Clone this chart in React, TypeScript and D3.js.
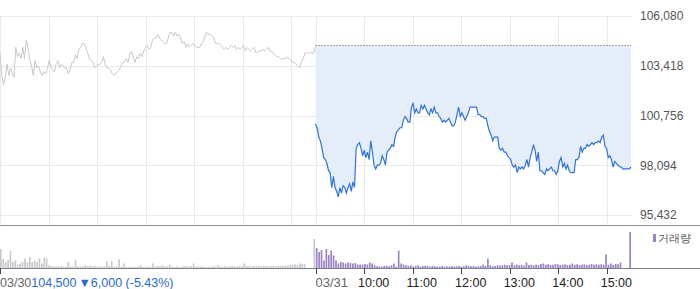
import React from 'react';
import * as d3 from 'd3';

const priceTicks = [95432, 98094, 100756, 103418, 106080];
const prevClose = 104500;
const dayLabels = ['03/30', '03/31'];
const hourLabels = ['10:00', '11:00', '12:00', '13:00', '14:00', '15:00'];
const summaryPrice = '104,500';
const summaryChange = '▼6,000 (-5.43%)';
const legendLabel = '거래량';

// 03/30 (previous session) prices, 09:00 -> 15:30
const day1Prices = [
  104100, 102900, 102400, 102800, 103500, 102900, 103300, 103000, 102800, 104400,
  103900, 104100, 103800, 104400, 103800, 104800, 104400, 103700,
  103400, 102900, 103700, 103300, 103400, 103100, 102900, 103100,
  103000, 103200, 103700, 103400, 103200, 103100, 103500, 103700, 103300, 103500,
  103400, 103300, 103300, 103000, 103200, 103600, 103600, 104000, 103800, 104300,
  104400, 104600, 104600, 104400, 104100, 103800, 103700, 103600, 103300, 103400,
  103500, 103500, 103600, 103900, 103500, 103300, 103300, 103200, 103000, 102900,
  103000, 103100, 103200, 103400, 103600, 103600, 103800, 103600, 104000, 104200,
  103900, 103600, 103900, 103800, 104100, 103900, 104200, 104400, 104500, 104300,
  104400,
  104800, 104900, 104900, 105100, 104900, 104800, 104700, 104600, 104600, 104900,
  105200, 105200, 105000, 105200, 105000, 105100, 104900, 104600, 104700, 104400,
  104600, 104400, 104500, 104600, 104500, 104400, 104400, 104400, 104600, 104700,
  105000, 105200, 105100, 105100, 105000, 104900, 104600, 104600, 104600, 104500,
  104400, 104300, 104400, 104300, 104400, 104500, 104400, 104500, 104300, 104400,
  104300, 104400, 104500, 104200, 104400, 104300, 104200, 104300, 104400, 104100,
  104200, 104200, 104200, 104300, 104200, 104300, 104400, 104200, 104200, 104100,
  104000, 103900, 103900, 103800, 103800, 103800, 103800, 103900, 103800, 103700,
  103600, 103600, 103500, 103400, 103300, 103600, 103800, 104100, 104100, 104100,
  104100, 104100, 104100, 104500,
];

// 03/31 (current session) prices, 09:00 -> 15:30
const day2Prices = [
  100300, 100100, 99600, 99400, 99000, 98500, 98400, 98200, 97800, 97700,
  96900, 97500, 96900, 96700, 96400, 96900, 96600, 97000, 96900, 96600,
  96900, 97100, 96700, 97200, 96900, 99000, 99200, 99300, 99000, 98600,
  98900, 98500, 98800, 98400, 99400, 98800, 98100, 97900, 98100, 98100,
  98200, 98600, 98400, 98100, 98800, 98900, 99000, 99200, 99100, 99600,
  99900, 100000, 100100, 100100, 100500, 100700, 100600, 100400, 100400, 101200,
  101400, 100900, 101100, 100900, 100900, 101300, 101100, 101300, 101100, 100900,
  100800, 101100, 100900, 101200, 100900, 100900, 100700, 100600, 100400, 100500,
  100400, 100500, 100600, 100400, 100200, 100200, 100400, 100800, 101200, 100700,
  100900, 100700, 100500, 100700, 100900, 101200, 101200, 101200, 101200, 101200,
  100800,
  100800, 100700, 100700, 100600, 100600, 100200, 99900, 99700, 99400, 99600,
  99600, 99600, 99000, 98900, 99000, 98800, 98800, 98600, 98500, 98400,
  98100, 98000, 98100, 97700, 98000, 97900, 98000, 97900, 98100, 98400,
  98000, 98500, 98800, 99200, 98900, 98300, 98800, 97800, 97800, 97700,
  97600, 97900, 97800, 97900, 98000, 97800, 97800, 97600, 97800, 98300,
  98500, 98000, 98200, 97900, 98100, 97800, 97700, 97700, 97700, 98400,
  98400, 98500, 99100, 98800, 99000, 99000, 99200, 99100, 99200, 99300,
  99200, 99300, 99300, 99400, 99300, 99600, 99700, 99100, 99000, 98500,
  98600, 98400, 98000, 98300, 98200, 98100, 98000, 98000, 97900, 97900,
  97900, 97900, 97900, 98000,
];

// volume (hundreds of shares) per 3-minute bar
const day1Volume = [
  190, 90, 60, 80, 170, 60, 75, 35, 45, 60,
  95, 60, 110, 60, 75, 60, 95, 45, 105, 95,
  28, 20, 17, 20, 14, 17, 14, 14, 60, 14,
  14, 78, 17, 14, 17, 27, 20, 23, 17, 20,
  14, 17, 14, 14, 68, 20, 68, 14, 17, 88,
  14, 45, 11, 11, 14, 11, 11, 14, 27, 11,
  14, 11, 14, 45, 14, 20, 17, 27, 17, 14,
  35, 14, 11, 14, 11, 14, 17, 20, 14, 20,
  45, 14, 17, 14, 17, 11, 14, 11, 17, 14,
  27, 17, 14, 20, 14, 17, 20, 14, 17, 20,
  17, 45, 17, 20, 14, 20, 17, 20, 17, 23,
  20, 17, 20, 23, 20, 23, 20, 23, 27, 23,
  30, 33, 37, 33, 45, 40, 37, 0, 0, 0,
  290,
];

const day2Volume = [
  200, 160, 180, 75, 190, 130, 175, 125, 75, 45,
  60, 55, 45, 55, 50, 45, 50, 35, 35, 35,
  40, 35, 55, 45, 28, 17, 17, 14, 20, 23,
  17, 27, 45, 14, 175, 45, 35, 28, 20, 27,
  14, 20, 27, 14, 20, 23, 20, 14, 20, 17,
  14, 14, 20, 14, 17, 14, 20, 14, 17, 20,
  14, 17, 27, 23, 17, 20, 14, 17, 20, 35,
  20, 95, 27, 17, 20, 27, 23, 27, 33, 27,
  30, 55, 27, 33, 27, 30, 23, 55, 30, 33,
  27, 33, 30, 40, 45, 33, 37, 30, 33, 40,
  37, 30, 33, 37, 30, 33, 45, 33, 37, 30,
  33, 37, 30, 33, 40, 33, 37, 33, 37, 33,
  137, 33, 45, 30, 40, 37, 55, 0, 0, 0,
  360,
];

const FONT = '"Liberation Sans", Arial, sans-serif';

export default function App() {
  const plotRight = 631;
  const x = d3.scaleLinear().domain([0, 780]).range([0, plotRight]);
  const y = d3.scaleLinear().domain([priceTicks[0], priceTicks[priceTicks.length - 1]]).range([215, 16]);
  const vy = d3.scaleLinear().domain([0, 430]).range([268, 225]);

  type P = { t: number; p: number };
  const d1: P[] = day1Prices.map((p, i) => ({ t: (i * 390) / (day1Prices.length - 1), p }));
  const d2: P[] = day2Prices.map((p, i) => ({ t: 390 + (i * 390) / (day2Prices.length - 1), p }));

  const line = d3.line<P>().x((d) => x(d.t)).y((d) => y(d.p));
  const area = d3.area<P>().x((d) => x(d.t)).y0(y(prevClose)).y1((d) => y(d.p));

  const allVol = [...day1Volume, ...day2Volume];
  const vb = d3.scaleBand<number>().domain(d3.range(allVol.length)).range([0, plotRight]).paddingInner(0.3);

  const crisp = (v: number) => Math.round(v) + 0.5;

  const vGrid: number[] = [];
  for (let d = 0; d < 2; d++) for (let h = 0; h <= 6; h++) vGrid.push(d * 390 + h * 60);

  const hourTicks = hourLabels.map((lab, i) => ({ lab, t: 390 + (i + 1) * 60 }));

  return (
    <div>
      <style>{`body{margin:0;}`}</style>
      <svg width={700} height={289} style={{ display: 'block', fontFamily: FONT }}>
        <rect x={0} y={0} width={700} height={289} fill="#fff" />
        {priceTicks.map((v) => (
          <line key={'h' + v} x1={0} x2={632} y1={crisp(y(v))} y2={crisp(y(v))} stroke="#e9e9e9" strokeWidth={1} />
        ))}
        {vGrid.map((t) => (
          <line key={'v' + t} x1={crisp(x(t))} x2={crisp(x(t))} y1={16} y2={225} stroke="#e9e9e9" strokeWidth={1} />
        ))}
        <path d={area(d2) || ''} fill="#e5edf9" />
        <line x1={x(390)} x2={plotRight} y1={crisp(y(prevClose)) - 1} y2={crisp(y(prevClose)) - 1} stroke="#555" strokeWidth={1} strokeDasharray="1,2" />
        <path d={line(d1) || ''} fill="none" stroke="#c9c9cc" strokeWidth={1} />
        <path d={line(d2) || ''} fill="none" stroke="#2f74dc" strokeWidth={1.2} />
        {priceTicks.map((v) => (
          <text key={'t' + v} x={640} y={y(v)} dy="0.36em" fontSize={12} fill="#555">
            {d3.format(',')(v)}
          </text>
        ))}
        <line x1={0} x2={700} y1={225.5} y2={225.5} stroke="#8a8f96" strokeWidth={1} />
        {allVol.map((v, i) =>
          v > 0 ? (
            <rect
              key={'b' + i}
              x={vb(i)!}
              y={vy(v)}
              width={vb.bandwidth()}
              height={vy(0) - vy(v)}
              fill={i < day1Volume.length ? '#c8c9cc' : '#9b84c6'}
            />
          ) : null
        )}
        <line x1={0} x2={700} y1={268.5} y2={268.5} stroke="#7d8288" strokeWidth={1} />
        <rect x={653} y={234} width={3} height={8} fill="#9b84c6" />
        <text x={658} y={238} dy="0.36em" fontSize={11} fill="#555">{legendLabel}</text>
        {[0, 390].map((t) => (
          <line key={'dt' + t} x1={crisp(x(t))} x2={crisp(x(t))} y1={268} y2={274} stroke="#444" />
        ))}
        {hourTicks.map((h) => (
          <line key={'ht' + h.t} x1={crisp(x(h.t))} x2={crisp(x(h.t))} y1={268} y2={274} stroke="#444" />
        ))}
        {hourTicks.map((h) => (
          <text key={'hl' + h.t} x={x(h.t) - 6} y={287} fontSize={12.5} fill="#222">
            {h.lab}
          </text>
        ))}
        <text x={0} y={287} fontSize={12.5} fill="#666">
          {dayLabels[0]}
          <tspan fill="#2a6ad3">{summaryPrice}</tspan>
          <tspan fill="#2a6ad3" dx={2}>{summaryChange}</tspan>
        </text>
        <text x={x(390)} y={287} fontSize={13} fill="#666">{dayLabels[1]}</text>
      </svg>
    </div>
  );
}
